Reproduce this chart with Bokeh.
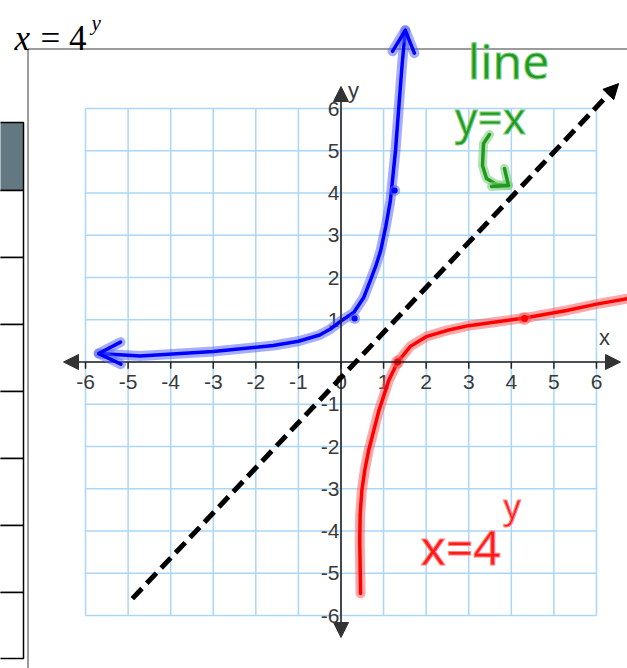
from bokeh.plotting import figure
from bokeh.models import Range1d, Arrow, NormalHead, OpenHead
from bokeh.core.properties import value
from bokeh.embed import file_html
from bokeh.resources import INLINE

# ---- values -------------------------------------------------------------
grid_ticks = list(range(-6, 7))
x_tick_labels = [str(t) for t in grid_ticks]
y_ticks = [t for t in grid_ticks if t != 0]
y_tick_labels = [str(t) for t in y_ticks]

# hand-drawn y = 4^x
blue_x = [-5.69, -4.72, -3.0, -1.59, -1.0, -0.5, -0.25, 0.0, 0.3, 0.53, 0.69, 0.82,
          0.93, 1.05, 1.16, 1.28, 1.37, 1.44, 1.51]
blue_y = [0.20, 0.14, 0.25, 0.39, 0.49, 0.64, 0.78, 0.97, 1.17, 1.52, 1.93, 2.28,
          2.63, 3.2, 3.82, 5.0, 6.19, 7.1, 7.85]
blue_pts_x = [0.32, 1.26]
blue_pts_y = [1.03, 4.06]

# hand-drawn x = 4^y
red_x = [0.46, 0.44, 0.45, 0.49, 0.56, 0.65, 0.89, 1.12, 1.33, 1.63, 2.0, 2.5,
         3.0, 3.5, 4.31, 5.3, 6.0, 6.73]
red_y = [-5.48, -4.24, -3.6, -3.04, -2.55, -2.09, -1.15, -0.44, 0.0, 0.37, 0.6, 0.75,
         0.86, 0.93, 1.04, 1.22, 1.37, 1.5]
red_pts_x = [1.33, 4.31]
red_pts_y = [0.0, 1.03]

# dashed line y = x
line_x = [-4.9, 6.52]
line_y = [-5.6, 6.59]

# ---- page geometry --------------------------------------------------------
W, H = 627, 668
X0, UX = 340.5, 42.58
Y0, UY = 361.5, 42.25


def px(u):
    return (u - X0) / UX


def py(v):
    return (Y0 - v) / UY


p = figure(width=W, height=H,
           x_range=Range1d(px(0), px(W)), y_range=Range1d(py(H), py(0)),
           output_backend="svg", toolbar_location=None, min_border=0,
           x_axis_location=None, y_axis_location=None,
           outline_line_color=None, background_fill_color="white")
p.grid.visible = False

# ---- side table and panel frame --------------------------------------------
row_edges = [122, 190, 257, 324, 391, 458, 525, 592, 658]
p.quad(left=[px(-3)] * 8, right=[px(23)] * 8,
       top=[py(v) for v in row_edges[:-1]], bottom=[py(v) for v in row_edges[1:]],
       fill_color=["#637880"] + ["white"] * 7, line_color="black", line_width=1.5)
p.segment(x0=[px(27.5), px(27.5)], y0=[py(48.5), py(48.5)],
          x1=[px(27.5), px(W)], y1=[py(H), py(48.5)],
          line_color="#9c9c9c", line_width=2)

# ---- title -----------------------------------------------------------------
serif = value("Liberation Serif")
p.text(x=[px(14)], y=[py(38)], text=["x"], text_font=serif, text_font_style="italic",
       text_font_size="35px", text_color="black", text_baseline="alphabetic")
p.text(x=[px(40)], y=[py(38)], text=["= 4"], text_font=serif,
       text_font_size="35px", text_color="black", text_baseline="alphabetic")
p.text(x=[px(91)], y=[py(22)], text=["y"], text_font=serif, text_font_style="italic",
       text_font_size="21px", text_color="black", text_baseline="alphabetic")

# ---- grid ------------------------------------------------------------------
p.segment(x0=grid_ticks, y0=[-6] * 13, x1=grid_ticks, y1=[6] * 13,
          line_color="#aad6f7", line_width=1.5)
p.segment(x0=[-6] * 13, y0=grid_ticks, x1=[6] * 13, y1=grid_ticks,
          line_color="#aad6f7", line_width=1.5)

# ---- axes with arrow tips ----------------------------------------------------
ax_col = "#222222"
for xe, ye in [(px(620), 0), (px(63), 0), (0, py(86)), (0, py(637))]:
    p.add_layout(Arrow(end=NormalHead(size=15, fill_color="#333333", line_color="#333333"),
                       x_start=0, y_start=0, x_end=xe, y_end=ye,
                       line_color=ax_col, line_width=1.6))
p.segment(x0=grid_ticks, y0=[0] * 13, x1=grid_ticks, y1=[-0.16] * 13,
          line_color=ax_col, line_width=1.5)

sans = value("Liberation Sans")
p.text(x=grid_ticks, y=[py(381)] * 13, text=x_tick_labels, text_font=sans,
       text_font_size="21px", text_color="#3a3a3a", text_align="center",
       text_baseline="middle")
p.text(x=[px(339)] * 12, y=y_ticks, text=y_tick_labels, text_font=sans,
       text_font_size="21px", text_color="#3a3a3a", text_align="right",
       text_baseline="middle")
p.text(x=[px(604), px(353)], y=[py(337), py(90)], text=["x", "y"], text_font=sans,
       text_font_size="22px", text_color="#3a3a3a", text_align="center",
       text_baseline="middle")

# ---- dashed line y = x -------------------------------------------------------
p.add_layout(Arrow(end=NormalHead(size=15, fill_color="black", line_color="black"),
                   x_start=line_x[0], y_start=line_y[0], x_end=line_x[1], y_end=line_y[1],
                   line_color="black", line_width=5, line_dash="14 7"))

# ---- ink curves ----------------------------------------------------------------
def ink(xs, ys, core, glow):
    p.line(xs, ys, line_color=glow, line_width=10, line_alpha=0.5,
           line_cap="round", line_join="round")
    p.line(xs, ys, line_color=core, line_width=3.5,
           line_cap="round", line_join="round")


ink(blue_x, blue_y, "#0000ff", "#4d5cff")
ink(red_x, red_y, "#ff0000", "#ff5050")

for start, end in [((blue_x[2], blue_y[2]), (blue_x[0], blue_y[0])),
                   ((blue_x[-3], blue_y[-3]), (blue_x[-1], blue_y[-1]))]:
    p.add_layout(Arrow(end=OpenHead(size=22, line_color="#4d5cff", line_width=10, line_alpha=0.5,
                                    line_cap="round", line_join="round"),
                       x_start=start[0], y_start=start[1], x_end=end[0], y_end=end[1],
                       line_alpha=0))
    p.add_layout(Arrow(end=OpenHead(size=22, line_color="#0000ff", line_width=3.5,
                                    line_cap="round", line_join="round"),
                       x_start=start[0], y_start=start[1], x_end=end[0], y_end=end[1],
                       line_alpha=0))

p.scatter(blue_pts_x, blue_pts_y, size=11, fill_color="#4d5cff", line_color=None, alpha=0.5)
p.scatter(blue_pts_x, blue_pts_y, size=6, fill_color="#0000ff", line_color=None)
p.scatter(red_pts_x, red_pts_y, size=13, fill_color="#ff5050", line_color=None, alpha=0.5)
p.scatter(red_pts_x, red_pts_y, size=7, fill_color="#ff0000", line_color=None)

# ---- handwritten notes --------------------------------------------------------------
hand = value("Noto Sans")
p.text(x=[px(508)], y=[py(60)], text=["line"], text_font=hand, text_font_size="48px",
       text_color="#1f9a1f", text_align="center", text_baseline="middle",
       text_outline_color="#7fcf7f")
p.text(x=[px(490)], y=[py(116)], text=["y=x"], text_font=hand, text_font_size="44px",
       text_color="#1f9a1f", text_align="center", text_baseline="middle",
       text_outline_color="#7fcf7f")
curl_x = [px(v) for v in [489, 483, 482, 486, 496, 508]]
curl_y = [py(v) for v in [134, 143, 165, 178, 184, 185]]
p.line(curl_x, curl_y, line_color="#7fcf7f", line_width=9, line_alpha=0.6,
       line_cap="round", line_join="round")
p.line(curl_x, curl_y, line_color="#1f9a1f", line_width=3.5,
       line_cap="round", line_join="round")
head_x = [px(v) for v in [504, 508, 491]]
head_y = [py(v) for v in [168, 185, 186]]
p.line(head_x, head_y, line_color="#7fcf7f", line_width=9, line_alpha=0.6,
       line_cap="round", line_join="round")
p.line(head_x, head_y, line_color="#1f9a1f", line_width=3.5,
       line_cap="round", line_join="round")

p.text(x=[px(420)], y=[py(546)], text=["x=4"], text_font=hand, text_font_size="48px",
       text_color="#ff1a1a", text_baseline="alphabetic",
       text_outline_color="#ff8080")
p.text(x=[px(503)], y=[py(505)], text=["y"], text_font=hand, text_font_size="34px",
       text_color="#ff1a1a", text_baseline="alphabetic",
       text_outline_color="#ff8080")

open("out.html", "w").write(file_html(p, INLINE))
